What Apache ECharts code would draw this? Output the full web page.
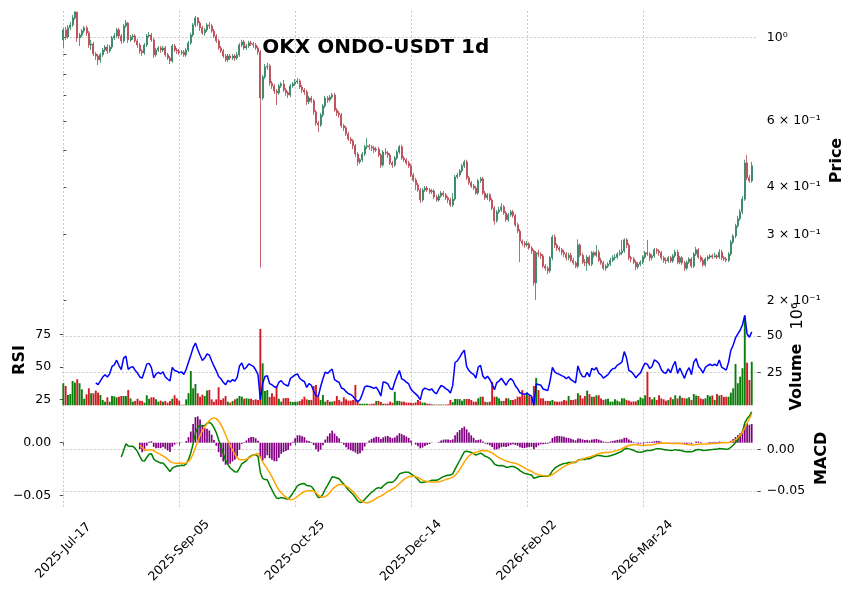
<!DOCTYPE html>
<html>
<head>
<meta charset="utf-8">
<script src="https://cdn.jsdelivr.net/npm/echarts@6/dist/echarts.min.js"></script>
<style>
  html, body { margin: 0; padding: 0; background: #fff; }
  #chart { width: 856px; height: 599px; }
</style>
</head>
<body>
<div id="chart"></div>
<script>
// OKX ONDO-USDT 1d
// bar index 0 = 2025-07-17, one bar per day

const firstOpen = 0.984; // open of bar 0, later opens = previous close

const close = [
1.046,1.002,1.059,1.078,1.125,1.167,0.996,1.014,1.039,1.059,
1.027,0.954,0.960,0.903,0.892,0.871,0.898,0.925,0.942,0.920,
0.942,0.996,1.008,1.046,1.008,0.978,1.072,1.091,0.984,1.002,
1.008,0.978,0.954,0.920,0.909,0.954,1.008,1.014,0.984,0.898,
0.925,0.937,0.925,0.937,0.898,0.881,0.865,0.948,0.925,0.920,
0.909,0.914,0.898,0.925,0.966,1.014,1.078,1.125,1.091,1.059,
1.027,1.046,1.078,1.072,1.039,1.008,0.978,0.937,0.920,0.892,
0.871,0.892,0.881,0.892,0.881,0.898,0.954,0.972,0.937,0.948,
0.966,0.960,0.954,0.937,0.914,0.690,0.785,0.834,0.839,0.756,
0.743,0.720,0.712,0.743,0.752,0.725,0.712,0.703,0.743,0.752,
0.761,0.766,0.738,0.725,0.716,0.674,0.690,0.678,0.634,0.592,
0.585,0.622,0.657,0.690,0.682,0.694,0.703,0.641,0.630,0.622,
0.582,0.575,0.554,0.537,0.531,0.515,0.490,0.467,0.473,0.490,
0.512,0.515,0.512,0.508,0.502,0.505,0.487,0.458,0.496,0.493,
0.487,0.464,0.458,0.478,0.496,0.512,0.478,0.473,0.464,0.456,
0.431,0.418,0.406,0.393,0.370,0.393,0.398,0.393,0.389,0.391,
0.377,0.370,0.379,0.386,0.382,0.375,0.370,0.359,0.372,0.426,
0.431,0.442,0.456,0.467,0.424,0.411,0.403,0.398,0.386,0.416,
0.421,0.386,0.375,0.382,0.370,0.352,0.326,0.344,0.348,0.355,
0.342,0.328,0.338,0.344,0.336,0.318,0.306,0.288,0.284,0.281,
0.283,0.276,0.271,0.223,0.268,0.266,0.263,0.247,0.244,0.240,
0.260,0.295,0.281,0.276,0.273,0.269,0.266,0.260,0.264,0.256,
0.252,0.247,0.281,0.264,0.253,0.252,0.261,0.250,0.268,0.264,
0.269,0.256,0.252,0.244,0.247,0.250,0.256,0.260,0.261,0.266,
0.268,0.271,0.290,0.281,0.260,0.258,0.253,0.246,0.250,0.253,
0.261,0.268,0.266,0.260,0.263,0.273,0.271,0.268,0.260,0.256,
0.255,0.260,0.255,0.263,0.269,0.253,0.260,0.252,0.244,0.253,
0.258,0.247,0.266,0.273,0.261,0.256,0.249,0.258,0.261,0.263,
0.261,0.263,0.261,0.269,0.260,0.258,0.256,0.266,0.286,0.297,
0.316,0.330,0.344,0.372,0.464,0.424,0.416,0.456
];

const high = [
1.059,1.065,1.078,1.098,1.146,1.172,1.168,1.027,1.052,1.072,
1.072,1.039,0.984,0.972,0.914,0.903,0.909,0.937,0.954,0.960,
0.954,1.008,1.027,1.059,1.059,1.020,1.085,1.112,1.098,1.014,
1.020,1.020,0.990,0.966,0.931,0.966,1.020,1.033,1.027,0.996,
0.937,0.948,0.948,0.948,0.948,0.909,0.892,0.960,0.960,0.937,
0.931,0.925,0.925,0.937,0.978,1.027,1.091,1.139,1.132,1.105,
1.072,1.059,1.091,1.098,1.085,1.052,1.020,0.990,0.948,0.931,
0.903,0.903,0.903,0.903,0.903,0.914,0.966,0.984,0.984,0.960,
0.978,0.978,0.972,0.966,0.948,0.925,0.794,0.849,0.855,0.849,
0.766,0.752,0.729,0.752,0.761,0.770,0.734,0.720,0.752,0.761,
0.775,0.780,0.775,0.747,0.734,0.725,0.699,0.699,0.686,0.641,
0.600,0.630,0.665,0.699,0.699,0.703,0.712,0.712,0.649,0.637,
0.630,0.589,0.582,0.561,0.544,0.537,0.521,0.496,0.478,0.496,
0.518,0.541,0.521,0.518,0.515,0.512,0.512,0.493,0.502,0.508,
0.499,0.493,0.470,0.484,0.502,0.518,0.518,0.484,0.478,0.470,
0.461,0.437,0.424,0.411,0.398,0.398,0.403,0.403,0.398,0.396,
0.396,0.382,0.384,0.391,0.391,0.386,0.379,0.375,0.386,0.431,
0.437,0.447,0.461,0.473,0.473,0.429,0.416,0.408,0.403,0.421,
0.426,0.426,0.391,0.386,0.386,0.375,0.357,0.348,0.355,0.363,
0.359,0.346,0.342,0.348,0.348,0.340,0.322,0.310,0.291,0.288,
0.288,0.286,0.279,0.274,0.271,0.273,0.269,0.266,0.250,0.247,
0.263,0.299,0.300,0.284,0.279,0.276,0.273,0.269,0.268,0.268,
0.260,0.255,0.291,0.284,0.268,0.258,0.264,0.264,0.271,0.271,
0.281,0.273,0.260,0.255,0.250,0.253,0.260,0.264,0.266,0.269,
0.273,0.290,0.293,0.293,0.284,0.263,0.261,0.256,0.253,0.256,
0.264,0.271,0.290,0.269,0.266,0.276,0.276,0.274,0.271,0.263,
0.260,0.263,0.263,0.266,0.273,0.273,0.263,0.263,0.255,0.256,
0.261,0.261,0.269,0.278,0.276,0.264,0.260,0.261,0.264,0.266,
0.266,0.268,0.266,0.274,0.273,0.263,0.261,0.269,0.290,0.300,
0.320,0.336,0.350,0.379,0.473,0.487,0.431,0.467
];

const low = [
0.937,0.984,0.990,1.046,1.065,1.112,0.972,0.948,1.002,1.027,
1.008,0.937,0.925,0.892,0.871,0.844,0.855,0.887,0.914,0.903,
0.909,0.931,0.984,0.996,0.990,0.960,0.966,1.059,0.966,0.972,
0.984,0.966,0.937,0.903,0.892,0.898,0.942,0.996,0.972,0.881,
0.887,0.914,0.909,0.914,0.887,0.871,0.849,0.855,0.914,0.903,
0.898,0.898,0.887,0.887,0.914,0.954,1.002,1.065,1.072,1.039,
1.014,1.008,1.033,1.052,1.027,0.996,0.966,0.925,0.909,0.881,
0.860,0.860,0.871,0.871,0.865,0.871,0.887,0.942,0.925,0.925,
0.937,0.948,0.937,0.925,0.898,0.245,0.682,0.775,0.819,0.743,
0.729,0.707,0.661,0.703,0.734,0.716,0.699,0.690,0.694,0.734,
0.743,0.752,0.729,0.712,0.703,0.661,0.665,0.669,0.622,0.582,
0.561,0.578,0.614,0.649,0.669,0.674,0.686,0.634,0.618,0.611,
0.575,0.564,0.547,0.531,0.521,0.505,0.481,0.456,0.461,0.467,
0.484,0.505,0.502,0.499,0.493,0.496,0.481,0.450,0.453,0.487,
0.478,0.458,0.450,0.453,0.473,0.490,0.473,0.467,0.458,0.450,
0.426,0.413,0.393,0.389,0.363,0.366,0.389,0.389,0.384,0.384,
0.372,0.366,0.366,0.375,0.377,0.370,0.363,0.355,0.355,0.368,
0.421,0.426,0.437,0.450,0.418,0.406,0.398,0.393,0.382,0.382,
0.411,0.382,0.370,0.370,0.366,0.348,0.318,0.322,0.340,0.344,
0.338,0.324,0.324,0.334,0.332,0.314,0.302,0.253,0.279,0.276,
0.278,0.273,0.266,0.219,0.201,0.261,0.258,0.244,0.240,0.235,
0.237,0.256,0.276,0.271,0.269,0.264,0.261,0.256,0.256,0.253,
0.249,0.244,0.244,0.261,0.250,0.247,0.240,0.247,0.247,0.260,
0.261,0.253,0.249,0.241,0.240,0.244,0.247,0.253,0.256,0.258,
0.263,0.264,0.268,0.276,0.256,0.253,0.250,0.241,0.243,0.247,
0.250,0.258,0.263,0.255,0.256,0.260,0.266,0.263,0.256,0.252,
0.250,0.252,0.252,0.252,0.260,0.250,0.250,0.249,0.240,0.241,
0.250,0.244,0.244,0.263,0.258,0.253,0.246,0.246,0.255,0.258,
0.258,0.260,0.258,0.258,0.256,0.255,0.253,0.253,0.263,0.283,
0.293,0.312,0.326,0.340,0.368,0.418,0.411,0.411
];

// volume in millions (axis shows x10^6)
const volume = [
17.5,15.6,9.4,10.1,19.0,17.9,20.2,17.5,13.3,6.8,
9.9,14.0,10.6,10.6,12.4,11.0,9.4,6.0,4.8,7.8,
4.8,8.7,8.5,7.8,8.2,8.7,8.7,8.7,12.8,7.1,
4.8,5.3,6.8,5.5,5.3,4.1,9.2,6.8,7.8,7.8,
6.4,4.8,5.5,4.8,5.3,4.1,5.3,6.8,9.2,7.1,
5.5,2.7,2.7,6.4,10.6,25.9,14.0,17.0,10.6,8.2,
9.6,8.7,12.4,12.8,6.4,4.8,6.4,14.7,6.0,7.1,
8.7,4.8,4.1,5.3,6.4,7.1,8.7,8.2,6.8,7.1,
6.8,6.8,6.0,6.4,6.0,54.8,31.2,12.2,12.8,8.0,
10.6,8.2,15.1,6.8,4.8,7.1,7.3,7.3,4.8,4.6,
4.8,4.8,5.3,6.4,8.2,6.4,6.0,6.0,15.6,16.3,
8.2,6.0,9.4,4.8,6.0,4.8,4.8,5.3,8.7,6.0,
4.8,7.8,6.4,5.5,5.5,6.0,16.3,5.5,3.4,3.4,
3.4,3.4,3.0,3.4,3.4,5.3,5.3,4.6,3.4,3.4,
3.4,4.8,4.1,11.6,5.3,5.3,4.8,4.8,4.1,4.1,
4.1,3.8,4.3,6.0,5.0,4.1,4.1,3.4,3.4,3.0,
2.8,2.8,2.8,2.8,2.8,2.8,3.0,6.0,4.5,6.6,
6.6,6.6,5.5,6.6,6.6,6.6,6.0,4.8,4.8,7.1,
8.2,8.2,4.8,4.5,4.8,18.3,8.2,8.2,7.1,5.3,
5.3,7.1,7.1,6.0,6.0,6.5,8.2,8.2,12.8,9.2,
11.0,9.0,8.0,15.6,21.1,12.8,7.1,7.1,5.3,5.3,
5.3,6.0,5.0,4.8,4.8,5.0,6.0,5.5,8.7,6.0,
6.0,6.5,10.6,9.2,7.0,8.7,12.4,10.0,8.2,8.2,
9.2,9.2,7.0,6.0,6.5,6.8,4.8,4.8,6.4,5.5,
4.8,7.1,7.1,6.0,5.5,4.8,5.0,5.0,6.0,7.8,
7.0,9.2,25.4,8.0,6.4,7.8,6.0,9.2,7.0,6.4,
5.5,6.0,7.8,6.5,9.2,7.0,8.9,7.5,7.1,7.0,
7.8,6.0,10.1,9.0,8.7,7.0,6.5,7.1,9.4,8.5,
9.0,6.0,10.1,9.0,9.4,8.0,8.2,8.2,11.0,14.0,
30.7,17.5,22.0,27.8,64.0,31.6,19.7,32.3
];

const tickIndex = [0, 50, 100, 150, 200, 250];
const tickLabels = ['2025-Jul-17', '2025-Sep-05', '2025-Oct-25', '2025-Dec-14', '2026-Feb-02', '2026-Mar-24'];
const priceTicks = [0.2, 0.3, 0.4, 0.6, 1.0];
const priceTickLabels = ['2 × 10⁻¹', '3 × 10⁻¹', '4 × 10⁻¹', '6 × 10⁻¹', '10⁰'];
const priceMinorTicks = [0.2, 0.3, 0.4, 0.5, 0.6, 0.7, 0.8, 0.9, 1.0];
const rsiTicks = [25, 50, 75];
const volTicks = [25, 50];
const macdTicks = [-0.05, 0];

// indicators, same as the original: RSI(14), MACD(12,26,9)
function calcRsi(c, p) {
  const out = [];
  let g = 0, l = 0;
  for (let i = 1; i <= p; i++) {
    const d = c[i] - c[i - 1];
    if (d > 0) g += d; else l -= d;
  }
  g /= p; l /= p;
  out.push([p, 100 - 100 / (1 + g / l)]);
  for (let i = p + 1; i < c.length; i++) {
    const d = c[i] - c[i - 1];
    g = (g * (p - 1) + Math.max(d, 0)) / p;
    l = (l * (p - 1) + Math.max(-d, 0)) / p;
    out.push([i, l === 0 ? 100 : 100 - 100 / (1 + g / l)]);
  }
  return out;
}
function ema(arr, span, start) {
  const k = 2 / (span + 1);
  const out = arr.map(() => null);
  out[start] = arr[start];
  for (let i = start + 1; i < arr.length; i++) out[i] = arr[i] * k + out[i - 1] * (1 - k);
  return out;
}

const open = close.map((c, i) => (i === 0 ? firstOpen : close[i - 1]));
const ema12 = ema(close, 12, 0);
const ema26 = ema(close, 26, 0);
const macdRaw = close.map((c, i) => ema12[i] - ema26[i]);
const signalRaw = ema(macdRaw, 9, 25);

const UP = '#2a7f5e', DOWN = '#b5434d';
const VOL_UP = '#0b7d0b', VOL_DOWN = '#d11b24';
const FONT = 'DejaVu Sans';

const candles = close.map((c, i) => [i, open[i], c, low[i], high[i]]);
const volBars = volume.map((v, i) => ({
  value: [i, v],
  itemStyle: { color: close[i] >= open[i] ? VOL_UP : VOL_DOWN }
}));
const rsiLine = calcRsi(close, 14);
const macdLine = [], signalLine = [], histBars = [];
for (let i = 25; i < close.length; i++) macdLine.push([i, macdRaw[i]]);
for (let i = 33; i < close.length; i++) {
  signalLine.push([i, signalRaw[i]]);
  histBars.push([i, macdRaw[i] - signalRaw[i]]);
}

const gridLine = { color: '#bcbcbc', width: 0.8, type: [2, 2] };
function marks(extra) {
  return {
    silent: true, symbol: 'none', z: 1, animation: false,
    label: { show: false },
    lineStyle: gridLine,
    emphasis: { disabled: true },
    data: tickIndex.map(i => ({ xAxis: i })).concat(extra || [])
  };
}
const tickStyle = { color: '#222', width: 0.8 };
const labelStyle = { fontFamily: FONT, fontSize: 12.5, color: '#000' };
const minus = v => (Math.abs(v) < 1e-9 ? '0.00' : (v < 0 ? '−' : '') + Math.abs(v).toFixed(2));

const xBase = {
  type: 'value', min: -0.7, max: 299.4,
  axisLine: { show: false }, splitLine: { show: false },
  axisTick: { show: false }, axisLabel: { show: false }
};

const chart = echarts.init(document.getElementById('chart'));
chart.setOption({
  animation: false,
  backgroundColor: '#fff',
  grid: [
    { left: 61.7, right: 98.7, top: 11, height: 294 },
    { left: 61.7, right: 98.7, top: 305, height: 100.3 },
    { left: 61.7, right: 98.7, top: 405.3, height: 101.4 }
  ],
  xAxis: [
    Object.assign({}, xBase, { gridIndex: 0 }),
    Object.assign({}, xBase, { gridIndex: 1 }),
    Object.assign({}, xBase, {
      gridIndex: 2,
      axisTick: { show: true, customValues: tickIndex, length: 3.5, lineStyle: tickStyle },
      axisLabel: Object.assign({
        show: true, customValues: tickIndex,
        formatter: v => tickLabels[tickIndex.indexOf(Math.round(v))],
        rotate: 45, align: 'center', verticalAlign: 'middle', margin: 44
      }, labelStyle)
    })
  ],
  yAxis: [
    {
      gridIndex: 0, type: 'log', logBase: 10, min: 0.1948, max: 1.174, position: 'right',
      axisLine: { show: false }, splitLine: { show: false },
      axisTick: { show: true, customValues: priceMinorTicks, length: 3, lineStyle: tickStyle },
      axisLabel: Object.assign({
        customValues: priceTicks, margin: 9.5,
        formatter: v => {
          const k = priceTicks.findIndex(t => Math.abs(t - v) / t < 1e-4);
          return k < 0 ? '' : priceTickLabels[k];
        }
      }, labelStyle)
    },
    {
      gridIndex: 1, type: 'value', min: 20.4, max: 97.5, position: 'left',
      axisLine: { show: false }, splitLine: { show: false },
      axisTick: { show: true, customValues: rsiTicks, length: 3.5, lineStyle: tickStyle },
      axisLabel: Object.assign({ customValues: rsiTicks, margin: 10.5 }, labelStyle)
    },
    {
      gridIndex: 1, type: 'value', min: 2.3, max: 71.3, position: 'right',
      axisLine: { show: false }, splitLine: { show: false },
      axisTick: { show: true, customValues: volTicks, length: 3.5, lineStyle: tickStyle },
      axisLabel: Object.assign({ customValues: volTicks, margin: 9.5 }, labelStyle)
    },
    {
      // left: histogram and signal
      gridIndex: 2, type: 'value', min: -0.0604, max: 0.0353, position: 'left',
      axisLine: { show: false }, splitLine: { show: false },
      axisTick: { show: true, customValues: macdTicks, length: 3.5, lineStyle: tickStyle },
      axisLabel: Object.assign({ customValues: macdTicks, margin: 10.5, formatter: minus }, labelStyle)
    },
    {
      // right: macd line
      gridIndex: 2, type: 'value', min: -0.0688, max: 0.0528, position: 'right',
      axisLine: { show: false }, splitLine: { show: false },
      axisTick: { show: true, customValues: macdTicks, length: 3.5, lineStyle: tickStyle },
      axisLabel: Object.assign({ customValues: macdTicks, margin: 9.5, formatter: minus }, labelStyle)
    }
  ],
  series: [
    {
      type: 'candlestick', xAxisIndex: 0, yAxisIndex: 0,
      data: candles, encode: { x: 0, y: [1, 2, 3, 4] },
      barWidth: 1.5,
      itemStyle: { color: UP, color0: DOWN, borderColor: UP, borderColor0: DOWN, borderWidth: 0.8 },
      markLine: marks([{ yAxis: 1 }])
    },
    {
      type: 'bar', xAxisIndex: 1, yAxisIndex: 2,
      data: volBars, barWidth: 1.9,
      markLine: marks(volTicks.map(v => ({ yAxis: v })))
    },
    {
      type: 'line', xAxisIndex: 1, yAxisIndex: 1,
      data: rsiLine, showSymbol: false,
      lineStyle: { color: '#0000ff', width: 1.5 }
    },
    {
      type: 'bar', xAxisIndex: 2, yAxisIndex: 3,
      data: histBars, barWidth: 1.7,
      itemStyle: { color: '#800080' },
      markLine: marks()
    },
    {
      type: 'line', xAxisIndex: 2, yAxisIndex: 4,
      data: macdLine, showSymbol: false,
      lineStyle: { color: '#008000', width: 1.5 },
      markLine: Object.assign(marks(), { data: macdTicks.map(v => ({ yAxis: v })) })
    },
    {
      type: 'line', xAxisIndex: 2, yAxisIndex: 3,
      data: signalLine, showSymbol: false,
      lineStyle: { color: '#ffa500', width: 1.5 }
    }
  ],
  graphic: [
    { type: 'text', x: 375.8, y: 48, style: { text: 'OKX ONDO-USDT 1d', font: 'bold 20px "DejaVu Sans"', fill: '#000', textAlign: 'center', textVerticalAlign: 'middle' } },
    { type: 'text', x: 837, y: 160.5, rotation: Math.PI / 2, style: { text: 'Price', font: 'bold 16px "DejaVu Sans"', fill: '#000', textAlign: 'center', textVerticalAlign: 'middle' } },
    { type: 'text', x: 19.5, y: 360, rotation: Math.PI / 2, style: { text: 'RSI', font: 'bold 16px "DejaVu Sans"', fill: '#000', textAlign: 'center', textVerticalAlign: 'middle' } },
    { type: 'text', x: 797, y: 377, rotation: Math.PI / 2, style: { text: 'Volume', font: 'bold 16px "DejaVu Sans"', fill: '#000', textAlign: 'center', textVerticalAlign: 'middle' } },
    { type: 'text', x: 798, y: 316, rotation: Math.PI / 2, style: { text: '10⁶', font: '16px "DejaVu Sans"', fill: '#000', textAlign: 'center', textVerticalAlign: 'middle' } },
    { type: 'text', x: 821.7, y: 458.3, rotation: Math.PI / 2, style: { text: 'MACD', font: 'bold 16px "DejaVu Sans"', fill: '#000', textAlign: 'center', textVerticalAlign: 'middle' } }
  ]
});
</script>
</body>
</html>
